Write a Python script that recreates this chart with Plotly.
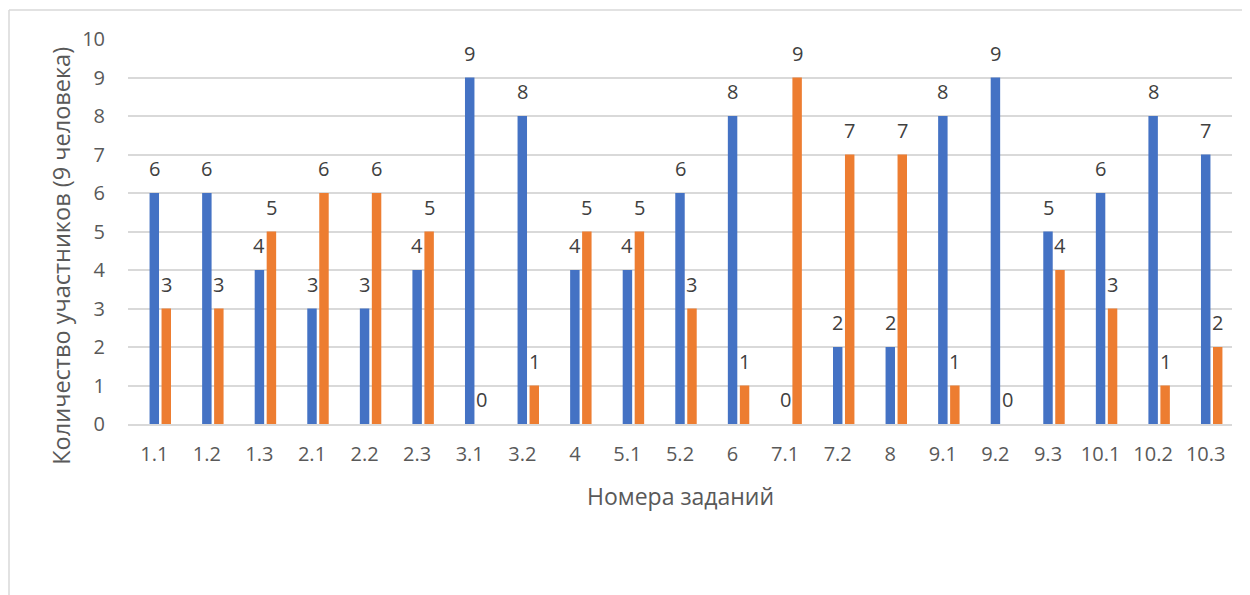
import plotly.graph_objects as go

categories = ["1.1", "1.2", "1.3", "2.1", "2.2", "2.3", "3.1", "3.2", "4", "5.1", "5.2",
              "6", "7.1", "7.2", "8", "9.1", "9.2", "9.3", "10.1", "10.2", "10.3"]
series_blue = [6, 6, 4, 3, 3, 4, 9, 8, 4, 4, 6, 8, 0, 2, 2, 8, 9, 5, 6, 8, 7]
series_orange = [3, 3, 5, 6, 6, 5, 0, 1, 5, 5, 3, 1, 9, 7, 7, 1, 0, 4, 3, 1, 2]
y_ticks = list(range(0, 11))

y_title = "Количество участников (9 человека)"
x_title = "Номера заданий"

BLUE = "#4472C4"
ORANGE = "#ED7D31"
GRID = "#D9D9D9"
TXT = "#595959"
LBL = "#404040"
FONT = "Open Sans"

W, H = 1250, 595
PAGE = 8  # page body offset
# target pixel positions in the screenshot
PLOT_L, PLOT_R, PLOT_T, PLOT_B = 128, 1232, 39, 424.5
ML = PLOT_L - PAGE
MT = PLOT_T - PAGE
MR = W - (PLOT_R - PAGE)
MB = H - (PLOT_B - PAGE)
plot_w = PLOT_R - PLOT_L
plot_h = PLOT_B - PLOT_T
cat_px = plot_w / len(categories)


def px_to_paper_y(py):
    return (PLOT_B - py) / plot_h


def px_to_paper_x(px):
    return (px - PLOT_L) / plot_w


bar_w = 0.18
off_blue = -0.09
off_orange = 0.138

fig = go.Figure()
fig.add_trace(go.Bar(x=categories, y=series_blue, width=bar_w, offset=off_blue,
                     marker=dict(color=BLUE, line=dict(width=0)), name="blue", showlegend=False))
fig.add_trace(go.Bar(x=categories, y=series_orange, width=bar_w, offset=off_orange,
                     marker=dict(color=ORANGE, line=dict(width=0)), name="orange", showlegend=False))

annotations = []
for vals, off in ((series_blue, off_blue), (series_orange, off_orange)):
    shift = (off + bar_w / 2) * cat_px
    for i, v in enumerate(vals):
        annotations.append(dict(x=i, y=v, xref="x", yref="y", text=str(v), showarrow=False,
                                xshift=shift, yshift=9, yanchor="bottom",
                                font=dict(family=FONT, size=20, color=LBL)))

annotations.append(dict(x=0.5, xref="paper", y=px_to_paper_y(497), yref="paper", yanchor="middle",
                        text=x_title, showarrow=False,
                        font=dict(family=FONT, size=23, color=TXT)))
annotations.append(dict(x=px_to_paper_x(61), xref="paper", y=px_to_paper_y(256), yref="paper",
                        xanchor="center", yanchor="middle", textangle=-90,
                        text=y_title, showarrow=False,
                        font=dict(family=FONT, size=23.5, color=TXT)))

border_x = px_to_paper_x(PAGE + 1)
border_y = px_to_paper_y(10)
shapes = [
    dict(type="line", xref="paper", yref="paper",
         x0=border_x, x1=border_x, y0=px_to_paper_y(H + 20), y1=border_y,
         line=dict(color=GRID, width=1.5)),
    dict(type="line", xref="paper", yref="paper",
         x0=border_x, x1=px_to_paper_x(W + 20), y0=border_y, y1=border_y,
         line=dict(color=GRID, width=1.5)),
]

fig.update_layout(
    width=W, height=H,
    margin=dict(l=ML, r=MR, t=MT, b=MB, pad=0),
    paper_bgcolor="white", plot_bgcolor="white",
    barmode="overlay",
    annotations=annotations, shapes=shapes,
    showlegend=False,
    font=dict(family=FONT, color=TXT),
)
fig.update_xaxes(type="category", showgrid=False, showline=True, linecolor=GRID, linewidth=1.5,
                 ticks="", tickfont=dict(family=FONT, size=20, color=TXT), ticklabelstandoff=11,
                 range=[-0.5, len(categories) - 0.5])
fig.update_yaxes(range=[0, 10], tickvals=y_ticks, showgrid=True, gridcolor=GRID, gridwidth=1.5,
                 zeroline=False, showline=False, ticks="",
                 tickfont=dict(family=FONT, size=20, color=TXT), ticklabelstandoff=22)

fig.write_html("out.html")
